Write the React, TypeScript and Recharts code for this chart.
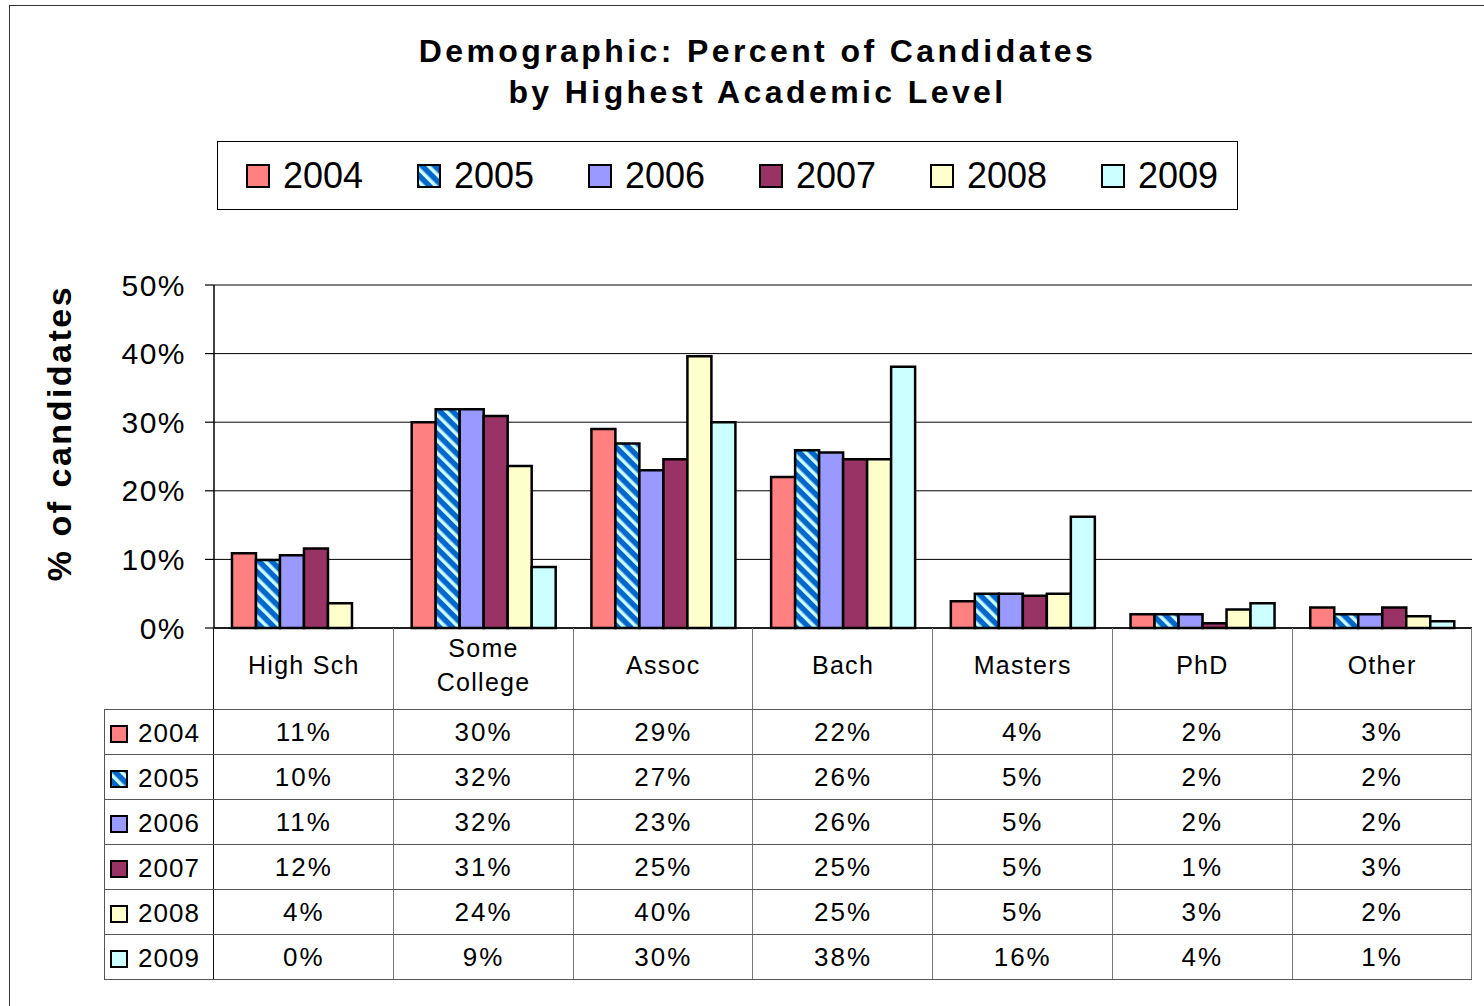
import React from 'react'
import { BarChart, Bar, XAxis, YAxis, CartesianGrid, Legend, ReferenceLine } from 'recharts'

const LEVELS = ['High Sch', 'Some College', 'Assoc', 'Bach', 'Masters', 'PhD', 'Other']
const YEARS = ['2004', '2005', '2006', '2007', '2008', '2009']

const Y2004 = [10.9, 30.0, 29.0, 22.0, 3.9, 2.0, 3.0]
const Y2005 = [9.9, 31.9, 26.9, 25.9, 5.0, 2.0, 2.0]
const Y2006 = [10.6, 31.9, 23.0, 25.6, 5.0, 2.0, 2.0]
const Y2007 = [11.6, 30.9, 24.6, 24.6, 4.7, 0.7, 3.0]
const Y2008 = [3.6, 23.6, 39.6, 24.6, 5.0, 2.7, 1.7]
const Y2009 = [0, 8.9, 30.0, 38.1, 16.2, 3.6, 1.0]

const SERIES = [Y2004, Y2005, Y2006, Y2007, Y2008, Y2009]
const COLORS = ['#FF8080', 'url(#stripes2005)', '#9999FF', '#993366', '#FFFFCC', '#CCFFFF']
const Y_TICKS = [0, 10, 20, 30, 40, 50]

const data = LEVELS.map((level, i) => {
  const row: Record<string, string | number> = { level }
  YEARS.forEach((y, s) => {
    row[y] = SERIES[s][i]
  })
  return row
})

// layout
const W = 1484
const H = 1006
const PLOT_L = 214
const PLOT_R = 1472
const PLOT_T = 285
const PLOT_B = 628
const HEAD_B = 710
const ROW_H = 45
const TABLE_B = HEAD_B + ROW_H * YEARS.length
const LABEL_L = 104
const COL_W = (PLOT_R - PLOT_L) / LEVELS.length
const FONT = '"Liberation Sans", Arial, sans-serif'

const Swatch = ({ fill, size }: { fill: string; size: number }) => (
  <svg width={size} height={size} style={{ display: 'block', flex: 'none' }}>
    <rect x={1} y={1} width={size - 2} height={size - 2} fill={fill} stroke="#000" strokeWidth={2} />
  </svg>
)

const LegendBox = ({ payload }: { payload?: { value: string; color: string }[] }) => {
  const items = payload && payload.length ? payload : YEARS.map((y, i) => ({ value: y, color: COLORS[i] }))
  return (
    <div
      style={{
        width: 1021,
        height: 69,
        boxSizing: 'border-box',
        border: '1.5px solid #000',
        background: '#fff',
        display: 'flex',
        alignItems: 'center',
        paddingLeft: 28,
      }}
    >
      {items.map((p) => (
        <div key={p.value} style={{ display: 'flex', alignItems: 'center', width: 171, flex: 'none' }}>
          <Swatch fill={p.color} size={24} />
          <span style={{ marginLeft: 13, fontSize: 36, fontFamily: FONT, color: '#000' }}>{p.value}</span>
        </div>
      ))}
    </div>
  )
}

const LevelTick = ({ x, y, payload }: { x?: number; y?: number; payload?: { value: string } }) => {
  const label = String(payload?.value ?? '')
  const lines = label.length > 9 ? label.split(' ') : [label]
  const lineH = 34
  const cy = (y ?? 0) + 37 - ((lines.length - 1) * lineH) / 2
  return (
    <text textAnchor="middle" fontSize={25} fontFamily={FONT} fill="#000" letterSpacing={1.3}>
      {lines.map((l, i) => (
        <tspan key={l} x={x} y={cy + i * lineH + 9}>
          {l}
        </tspan>
      ))}
    </text>
  )
}

const YTitle = () => (
  <text
    x={71}
    y={433}
    transform="rotate(-90 71 433)"
    textAnchor="middle"
    fontSize={34}
    fontWeight="bold"
    fontFamily={FONT}
    letterSpacing={2.5}
    fill="#000"
  >
    % of candidates
  </text>
)

const DataTable = () => {
  const lines: React.ReactNode[] = []
  lines.push(
    <div
      key="vl"
      style={{ position: 'absolute', left: LABEL_L, top: HEAD_B, width: 0, height: TABLE_B - HEAD_B, borderLeft: '1.5px solid #555' }}
    />
  )
  for (let c = 0; c <= LEVELS.length; c++) {
    const x = PLOT_L + c * COL_W
    lines.push(
      <div
        key={'v' + c}
        style={{
          position: 'absolute',
          left: x - 0.75,
          top: PLOT_B,
          width: 0,
          height: TABLE_B - PLOT_B,
          borderLeft: `1.5px solid ${c === 0 ? '#111' : '#777'}`,
        }}
      />
    )
  }
  for (let r = 0; r <= YEARS.length; r++) {
    const y = HEAD_B + r * ROW_H
    lines.push(
      <div
        key={'h' + r}
        style={{
          position: 'absolute',
          left: LABEL_L,
          top: y - 0.75,
          width: PLOT_R - LABEL_L,
          height: 0,
          borderTop: '1.5px solid #555',
        }}
      />
    )
  }
  const cells: React.ReactNode[] = []
  YEARS.forEach((year, r) => {
    const top = HEAD_B + r * ROW_H
    cells.push(
      <div
        key={'l' + year}
        style={{ position: 'absolute', left: LABEL_L + 6, top: top + 1, height: ROW_H, display: 'flex', alignItems: 'center' }}
      >
        <Swatch fill={COLORS[r]} size={18} />
        <span style={{ marginLeft: 10, fontSize: 26, letterSpacing: 1 }}>{year}</span>
      </div>
    )
    SERIES[r].forEach((v, c) => {
      cells.push(
        <div
          key={year + c}
          style={{
            position: 'absolute',
            left: PLOT_L + c * COL_W,
            top,
            width: COL_W,
            height: ROW_H,
            display: 'flex',
            alignItems: 'center',
            justifyContent: 'center',
            fontSize: 26,
            letterSpacing: 2,
          }}
        >
          {Math.round(v)}%
        </div>
      )
    })
  })
  return (
    <>
      {lines}
      {cells}
    </>
  )
}

export default function App() {
  return (
    <div
      style={{
        position: 'absolute',
        left: 0,
        top: 0,
        width: W,
        height: H,
        overflow: 'hidden',
        background: '#fff',
        fontFamily: FONT,
        color: '#000',
      }}
    >
      <div
        style={{
          position: 'absolute',
          left: 9,
          top: 5,
          width: W,
          height: H + 10,
          borderLeft: '1.5px solid #333',
          borderTop: '1.5px solid #333',
        }}
      />
      <div
        style={{
          position: 'absolute',
          left: 0,
          top: 31,
          width: 1515,
          textAlign: 'center',
          fontSize: 32,
          fontWeight: 'bold',
          letterSpacing: 3.4,
          lineHeight: '41px',
        }}
      >
        Demographic: Percent of Candidates
        <br />
        by Highest Academic Level
      </div>
      <div style={{ position: 'absolute', left: 0, top: 0 }}>
        <BarChart
          width={W}
          height={H}
          data={data}
          margin={{ top: PLOT_T, right: W - PLOT_R, bottom: H - HEAD_B, left: 0 }}
          barGap={0}
          barCategoryGap="10%"
        >
          <defs>
            <pattern id="stripes2005" patternUnits="userSpaceOnUse" width={9} height={9} patternTransform="rotate(-45)">
              <rect width={9} height={9} fill="#0066CC" />
              <rect x={5} width={3.5} height={9} fill="#CCFFFF" />
            </pattern>
          </defs>
          <CartesianGrid vertical={false} stroke="#000" strokeWidth={1} />
          <XAxis
            dataKey="level"
            height={HEAD_B - PLOT_B}
            interval={0}
            tickLine={false}
            tickSize={0}
            tickMargin={0}
            axisLine={{ stroke: '#000', strokeWidth: 1.5 }}
            tick={<LevelTick />}
          />
          <YAxis
            width={PLOT_L}
            domain={[0, 50]}
            ticks={Y_TICKS}
            interval={0}
            tickFormatter={(v: number) => `${v}%`}
            tick={{ fontSize: 30, fill: '#000', fontFamily: FONT, letterSpacing: 1.5 }}
            tickSize={9}
            tickMargin={19}
            tickLine={{ stroke: '#000', strokeWidth: 1.2 }}
            axisLine={{ stroke: '#000', strokeWidth: 1.5 }}
            label={{ content: () => <YTitle /> }}
          />
          <YAxis
            yAxisId="right"
            orientation="right"
            width={0}
            domain={[0, 50]}
            tick={false}
            tickLine={false}
            axisLine={{ stroke: '#808080', strokeWidth: 1.5 }}
          />
          <ReferenceLine y={50} stroke="#808080" strokeWidth={1.5} />
          <Legend
            layout="horizontal"
            verticalAlign="middle"
            align="center"
            content={<LegendBox />}
            wrapperStyle={{ position: 'absolute', left: 217, top: 141, width: 1021, height: 69, bottom: 'auto', right: 'auto' }}
          />
          {YEARS.map((y, s) => (
            <Bar key={y} dataKey={y} name={y} fill={COLORS[s]} stroke="#000" strokeWidth={2.5} isAnimationActive={false} />
          ))}
        </BarChart>
      </div>
      <DataTable />
    </div>
  )
}
